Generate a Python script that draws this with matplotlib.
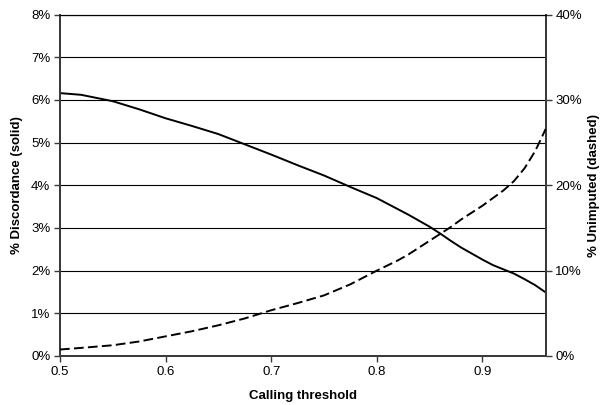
"""Discordance vs. unimputed genotypes across calling thresholds (twin-axis line chart)."""

import matplotlib

matplotlib.use("Agg")
import matplotlib.pyplot as plt
from matplotlib.ticker import FuncFormatter

plt.rcParams["font.family"] = ["Liberation Sans", "DejaVu Sans"]

# Values.
threshold = [0.50, 0.52, 0.55, 0.575, 0.60, 0.625, 0.65, 0.675, 0.70, 0.725,
             0.75, 0.775, 0.80, 0.81, 0.82, 0.83, 0.84, 0.85, 0.86, 0.87,
             0.88, 0.89, 0.90, 0.91, 0.92, 0.93, 0.94, 0.95, 0.96]
discordance = [6.16, 6.12, 5.97, 5.78, 5.57, 5.39, 5.20, 4.96, 4.72, 4.47,
               4.23, 3.96, 3.70, 3.57, 3.44, 3.31, 3.17, 3.03, 2.87, 2.70,
               2.54, 2.40, 2.26, 2.13, 2.03, 1.93, 1.80, 1.66, 1.49]
unimputed = [0.76, 0.95, 1.26, 1.70, 2.30, 2.90, 3.60, 4.40, 5.36, 6.20,
             7.10, 8.40, 10.0, 10.6, 11.2, 11.9, 12.7, 13.5, 14.3, 15.1,
             16.0, 16.8, 17.6, 18.5, 19.4, 20.5, 22.0, 24.0, 26.6]

left_ticks = [0, 1, 2, 3, 4, 5, 6, 7, 8]
right_ticks = [0, 10, 20, 30, 40]
x_ticks = [0.5, 0.6, 0.7, 0.8, 0.9]

FRAME = "#3a3a3a"

fig = plt.figure(figsize=(6.02, 4.05), dpi=100)
ax = fig.add_axes([0.0997, 0.121, 0.8068, 0.843])
ax2 = ax.twinx()

# gridlines every 1% on the left scale
for v in left_ticks[1:]:
    ax.axhline(v, color="black", linewidth=0.8, zorder=1)

ax.plot(threshold, discordance, color="black", linewidth=1.4, zorder=3)
ax2.plot(threshold, unimputed, color="black", linewidth=1.4,
         linestyle=(0, (5, 2.2)), zorder=3)

ax.set_xlim(0.5, 0.96)
ax.set_ylim(0, 8)
ax2.set_ylim(0, 40)
ax.set_xticks(x_ticks)
ax.set_xticklabels([f"{t:.1f}" for t in x_ticks])
ax.set_yticks(left_ticks)
ax2.set_yticks(right_ticks)
pct = FuncFormatter(lambda v, _: f"{v:.0f}%")
ax.yaxis.set_major_formatter(pct)
ax2.yaxis.set_major_formatter(pct)

for a in (ax, ax2):
    a.tick_params(direction="out", length=4, width=1.0, color=FRAME,
                  labelsize=9.5, pad=3)
    for side in ("left", "bottom", "right"):
        a.spines[side].set_color(FRAME)
        a.spines[side].set_linewidth(1.4)
    a.spines["top"].set_color("black")
    a.spines["top"].set_linewidth(0.8)

ax.set_xlabel("Calling threshold", fontsize=9.5, fontweight="bold", labelpad=9)
ax.set_ylabel("% Discordance (solid)", fontsize=9.5, fontweight="bold", labelpad=6)
ax2.set_ylabel("% Unimputed (dashed)", fontsize=9.5, fontweight="bold", labelpad=4)

fig.savefig("out.png", dpi=100)
plt.close(fig)
